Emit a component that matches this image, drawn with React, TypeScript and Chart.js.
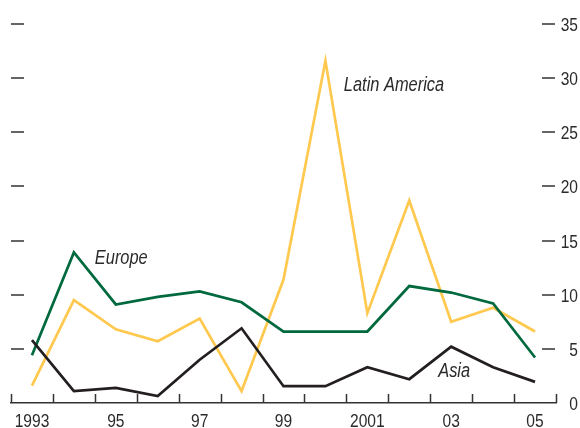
import React, { useEffect, useRef } from 'react';
import { Chart, registerables } from 'chart.js';

Chart.register(...registerables);

const years = ['1993', '1994', '1995', '1996', '1997', '1998', '1999', '2000', '2001', '2002', '2003', '2004', '2005'];
const yearTickLabels = ['1993', '', '95', '', '97', '', '99', '', '2001', '', '03', '', '05'];
const europe = [4.4, 13.9, 9.1, 9.8, 10.3, 9.3, 6.6, 6.6, 6.6, 10.8, 10.2, 9.2, 4.2];
const latinAmerica = [1.6, 9.5, 6.8, 5.7, 7.8, 1.1, 11.4, 31.6, 8.3, 18.7, 7.5, 8.8, 6.6];
const asia = [5.8, 1.1, 1.4, 0.65, 4.0, 6.9, 1.55, 1.55, 3.3, 2.2, 5.2, 3.3, 1.95];
const yMin = 0;
const yMax = 35;
const yStep = 5;

const FONT = "'Liberation Sans', Arial, sans-serif";
const CONDENSE = 0.82;
const GREEN = '#00693e';
const YELLOW = '#ffc84e';
const BLACK = '#231f20';
const AXIS = '#333333';
const TEXT = '#2b2b2b';

// series label anchors in data terms (category index, value at text baseline)
const seriesLabels = [
  { text: 'Latin America', x: 7.44, y: 28.8 },
  { text: 'Europe', x: 1.5, y: 12.85 },
  { text: 'Asia', x: 9.69, y: 2.4 },
];

function condensedText(ctx: any, text: string, x: number, y: number, align: CanvasTextAlign) {
  ctx.save();
  ctx.translate(x, y);
  ctx.scale(CONDENSE, 1);
  ctx.textAlign = align;
  ctx.textBaseline = 'alphabetic';
  ctx.fillText(text, 0, 0);
  ctx.restore();
}

const decorPlugin = {
  id: 'decor',
  afterDraw(chart: any) {
    const ctx = chart.ctx;
    const xs = chart.scales.x;
    const ys = chart.scales.y;
    const area = chart.chartArea;
    ctx.save();
    ctx.strokeStyle = AXIS;
    ctx.lineWidth = 1.5;
    // inward x ticks at category boundaries
    for (let i = 0; i <= years.length; i++) {
      const x = Math.round(xs.getPixelForValue(i - 0.5)) + 0.5;
      ctx.beginPath();
      ctx.moveTo(x, area.bottom);
      ctx.lineTo(x, area.bottom - 9);
      ctx.stroke();
    }
    // y dashes on both sides
    ctx.lineWidth = 1.6;
    for (let v = yMin + yStep; v <= yMax; v += yStep) {
      const y = Math.round(ys.getPixelForValue(v));
      ctx.beginPath();
      ctx.moveTo(area.left, y);
      ctx.lineTo(area.left + 13, y);
      ctx.moveTo(area.right - 14, y);
      ctx.lineTo(area.right - 1, y);
      ctx.stroke();
    }
    ctx.fillStyle = TEXT;
    ctx.font = `19px ${FONT}`;
    // y tick labels (right, right-aligned)
    ys.ticks.forEach((t: any) => {
      const y = ys.getPixelForValue(t.value);
      condensedText(ctx, String(t.value), area.right + 22, y + 7, 'right');
    });
    // x tick labels
    yearTickLabels.forEach((lab, i) => {
      if (!lab) return;
      condensedText(ctx, lab, xs.getPixelForValue(i), area.bottom + 24, 'center');
    });
    // series labels
    ctx.font = `italic 20px ${FONT}`;
    for (const l of seriesLabels) {
      condensedText(ctx, l.text, xs.getPixelForValue(l.x), ys.getPixelForValue(l.y), 'left');
    }
    ctx.restore();
  },
};

export default function App() {
  const ref = useRef<HTMLCanvasElement>(null);
  useEffect(() => {
    if (!ref.current) return;
    const chart = new Chart(ref.current, {
      type: 'line',
      data: {
        labels: years,
        datasets: [
          { label: 'Asia', data: asia, borderColor: BLACK, borderWidth: 2.7, pointRadius: 0, tension: 0, fill: false },
          { label: 'Europe', data: europe, borderColor: GREEN, borderWidth: 2.7, pointRadius: 0, tension: 0, fill: false },
          { label: 'Latin America', data: latinAmerica, borderColor: YELLOW, borderWidth: 2.7, pointRadius: 0, tension: 0, fill: false },
        ],
      },
      options: {
        animation: false,
        responsive: false,
        devicePixelRatio: 1,
        layout: { padding: { left: 11, top: 24, right: 2, bottom: 0 } },
        plugins: { legend: { display: false }, tooltip: { enabled: false } },
        scales: {
          x: {
            type: 'category',
            offset: true,
            grid: { display: false, drawTicks: false },
            border: { display: true, color: AXIS, width: 1.5 },
            ticks: { display: false, autoSkip: false },
            afterFit: (s: any) => { s.height = 25; },
          },
          y: {
            position: 'right',
            min: yMin,
            max: yMax,
            grid: { display: false, drawTicks: false },
            border: { display: false },
            ticks: { display: false, stepSize: yStep },
            afterFit: (s: any) => { s.width = 22; },
          },
        },
      },
      plugins: [decorPlugin],
    });
    return () => chart.destroy();
  }, []);
  return (
    <div style={{ position: 'absolute', left: 0, top: 0, width: 580, height: 428, background: '#fff' }}>
      <canvas ref={ref} width={580} height={428} style={{ display: 'block' }} />
    </div>
  );
}
